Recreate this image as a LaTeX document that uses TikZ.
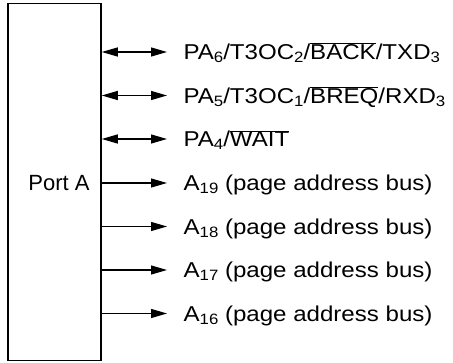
\documentclass[tikz,border=0pt]{standalone}
\usepackage{fontspec}
\setmainfont{Liberation Sans}
\newfontfamily\pinfont[FakeStretch=1.12]{Liberation Sans}
\usetikzlibrary{arrows.meta}
\newcommand{\ovl}[1]{$\overline{\mbox{#1}}$}
\newcommand{\sub}[1]{\raisebox{-0.25ex}{\fontsize{15}{18}\selectfont #1}}

\begin{document}
\begin{tikzpicture}[x=1pt,y=-1pt,line width=1.2pt,
  outsig/.style={-{Triangle[length=16pt,width=9pt]}},
  iosig/.style={{Triangle[length=16pt,width=9pt]}-{Triangle[length=16pt,width=9pt]}},
  pinname/.style={anchor=base west,inner sep=0pt,font=\pinfont\fontsize{21.5}{26}\selectfont}]
\useasboundingbox (0,0) rectangle (453,363);

\node[draw,line width=1.5pt,minimum width=93pt,minimum height=357pt,inner sep=0pt] (port) at (54.5,182) {};
\node[font=\fontsize{22}{26}\selectfont,inner sep=0pt] (porttxt) at (59,183) {Port A};

\coordinate (e6) at (167,52);
\coordinate (e5) at (167,95.5);
\coordinate (e4) at (167,139);
\coordinate (e19) at (167,183);
\coordinate (e18) at (167,226.5);
\coordinate (e17) at (167,270);
\coordinate (e16) at (167,313.5);

\node[pinname] (pa6) at (183,60) {PA\sub{6}/T3OC\sub{2}/\ovl{BACK}/TXD\sub{3}};
\node[pinname] (pa5) at (183,103.5) {PA\sub{5}/T3OC\sub{1}/\ovl{BREQ}/RXD\sub{3}};
\node[pinname] (pa4) at (183,147) {PA\sub{4}/\ovl{WAIT}};
\node[pinname] (a19) at (183,191) {A\sub{19} (page address bus)};
\node[pinname] (a18) at (183,234.5) {A\sub{18} (page address bus)};
\node[pinname] (a17) at (183,278) {A\sub{17} (page address bus)};
\node[pinname] (a16) at (183,321.5) {A\sub{16} (page address bus)};

\draw[iosig] (port.east |- e6) -- (e6);
\draw[iosig] (port.east |- e5) -- (e5);
\draw[iosig] (port.east |- e4) -- (e4);
\draw[outsig] (port.east |- e19) -- (e19);
\draw[outsig] (port.east |- e18) -- (e18);
\draw[outsig] (port.east |- e17) -- (e17);
\draw[outsig] (port.east |- e16) -- (e16);
\end{tikzpicture}
\end{document}
